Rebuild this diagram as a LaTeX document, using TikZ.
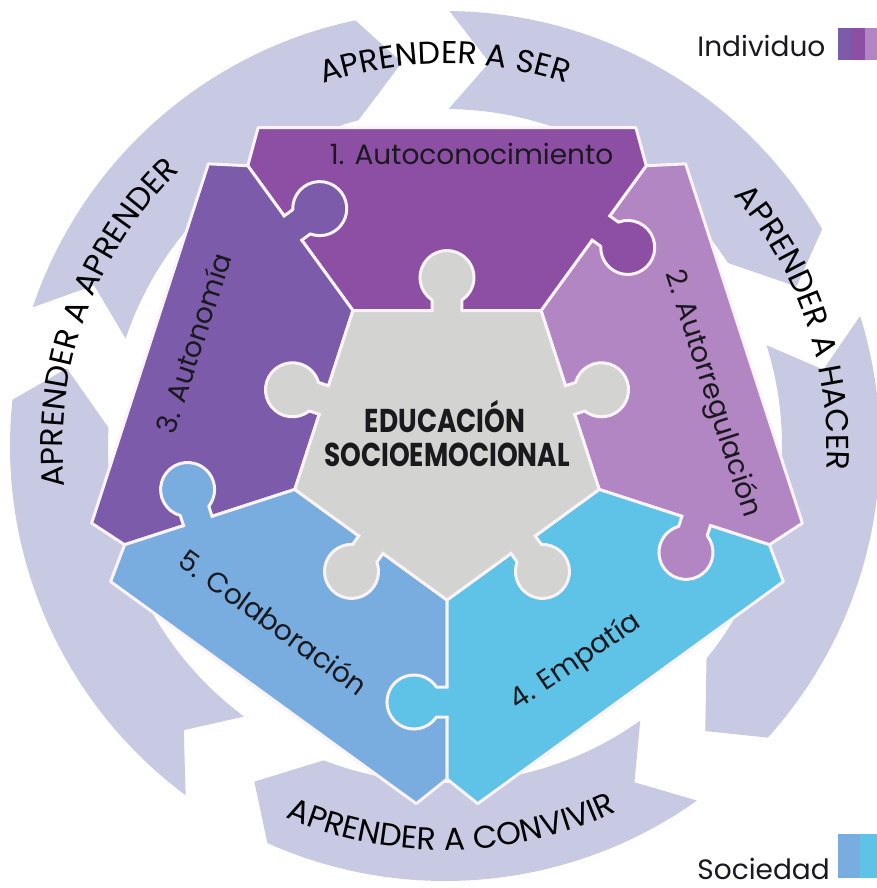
\documentclass[tikz,border=0pt]{standalone}
\usepackage{fontspec}
\setmainfont{Poppins}
\usetikzlibrary{calc,decorations.text}
\definecolor{pone}{RGB}{141,79,164}
\definecolor{ptwo}{RGB}{177,134,194}
\definecolor{pthree}{RGB}{123,91,170}
\definecolor{pfour}{RGB}{94,195,230}
\definecolor{pfive}{RGB}{121,173,223}
\definecolor{pgray}{RGB}{211,211,209}
\definecolor{ringc}{RGB}{199,202,226}
\definecolor{outl}{RGB}{250,243,250}
\definecolor{ink}{RGB}{25,25,30}
\newcommand\ringfont{\fontsize{15.8}{18}\selectfont}
\newcommand\puzzlepiece[2]{%
  \pgfmathsetmacro\pieceA{#1}\pgfmathsetmacro\pieceB{#1+72}%
  \filldraw[fill=#2, piecestroke] (\pieceA:160) -- (\pieceA:339)
    -- ($(\pieceA:386)!0.0837!(\pieceB:386)$) -- ($(\pieceB:386)!0.0837!(\pieceA:386)$)
    -- (\pieceB:339) -- (\pieceB:160) -- cycle;}
\newcommand\puzzleknob[4]{%
  \begin{scope}[shift={(#1:#2)}, rotate=#3]
    \fill[#4] (-15,-4) -- (-15,10.6) arc[start angle=236.3, end angle=-56.3, radius=27] -- (15,-4) -- cycle;
    \draw[knobstroke] (-15,0) -- (-15,10.6) arc[start angle=236.3, end angle=-56.3, radius=27] -- (15,0);
  \end{scope}}
\begin{document}
\begin{tikzpicture}[x=0.5pt,y=0.5pt,
  piecestroke/.style={draw=outl, line width=1.5pt, line join=round},
  knobstroke/.style={draw=outl, line width=1.5pt, line join=round, line cap=rect},
  lbl/.style={font=\fontsize{14}{16}\selectfont, text=ink, inner sep=0pt},
  title/.style={font=\fontsize{16.5}{18}\selectfont\bfseries, text=ink, inner sep=0pt, anchor=base},
  legend/.style={font=\fontsize{14}{16}\selectfont, text=ink, inner sep=0pt, anchor=base west}]
\useasboundingbox (-447,-448) rectangle (430,440);
\clip (-447,-448) rectangle (430,440);
\fill[white] (-447,-448) rectangle (430,440);
% ring of arrows
\begin{scope}[shift={(-2,-6)}]
  \foreach \t in {96.4,24.4,-47.6,-119.6,-191.6}{
    \pgfmathsetmacro\ta{\t+65}\pgfmathsetmacro\tb{\t+5.5}%
    \pgfmathsetmacro\tc{\t+8.5}\pgfmathsetmacro\td{\t+59}%
    \fill[ringc] (\ta:435) arc[start angle=\ta, end angle=\tb, radius=435] -- (\t:386)
      -- (\tc:337) arc[start angle=\tc, end angle=\ta, radius=337] -- (\td:386) -- cycle;
  }
  \path[decorate, decoration={text along path, text align=center,
    text={|\ringfont|APRENDER A SER}}] (150:382) arc[start angle=150, end angle=30, radius=382];
  \path[decorate, decoration={text along path, text align=center,
    text={|\ringfont|APRENDER A HACER}}] (88.7:382) arc[start angle=88.7, end angle=-51.3, radius=382];
  \path[decorate, decoration={text along path, text align=center,
    text={|\ringfont|APRENDER A CONVIVIR}}] (-169:404) arc[start angle=-169, end angle=-9, radius=404];
  \path[decorate, decoration={text along path, text align=center,
    text={|\ringfont|APRENDER A APRENDER}}] (240:382) arc[start angle=240, end angle=80, radius=382];
\end{scope}
% outer puzzle pieces
\puzzlepiece{-18}{ptwo}
\puzzlepiece{54}{pone}
\puzzlepiece{126}{pthree}
\puzzlepiece{198}{pfive}
\puzzlepiece{270}{pfour}
% centre piece
\filldraw[fill=pgray, piecestroke] (54:160) -- (126:160) -- (198:160) -- (270:160) -- (342:160) -- cycle;
% knobs between outer pieces
\puzzleknob{54}{262}{-126}{pone}
\puzzleknob{126}{262}{-54}{pthree}
\puzzleknob{198}{262}{18}{pfive}
\puzzleknob{270}{262}{90}{pfour}
\puzzleknob{342}{262}{162}{ptwo}
% knobs of the centre piece
\puzzleknob{90}{129.4}{0}{pgray}
\puzzleknob{18}{129.4}{-72}{pgray}
\puzzleknob{-54}{129.4}{-144}{pgray}
\puzzleknob{-126}{129.4}{-216}{pgray}
\puzzleknob{162}{129.4}{72}{pgray}
% labels
\node[lbl, anchor=base] (t1) at (24.5,275) {1. Autoconocimiento};
\node[lbl, rotate=-72] (t2) at (265,46) {2. Autorregulación};
\node[lbl, rotate=72] (t3) at (-254,97) {3. Autonomía};
\node[lbl, rotate=34] (t4) at (129,-222) {4. Empatía};
\node[lbl, rotate=-36] (t5) at (-173,-182) {5. Colaboración};
\node[title] (e1) at (-2,7) {\scalebox{0.8}[1]{EDUCACIÓN}};
\node[title] (e2) at (0,-27) {\scalebox{0.8}[1]{SOCIOEMOCIONAL}};
% legend
\node[legend] (ind) at (250,383) {Individuo};
\fill[pthree] (391,380) rectangle (404,412);
\fill[pone] (404,380) rectangle (418,412);
\fill[ptwo] (418,380) rectangle (430,412);
\node[legend] (soc) at (250,-439) {Sociedad};
\fill[pfive] (391,-438) rectangle (413,-394);
\fill[pfour] (413,-438) rectangle (430,-394);
\end{tikzpicture}
\end{document}
